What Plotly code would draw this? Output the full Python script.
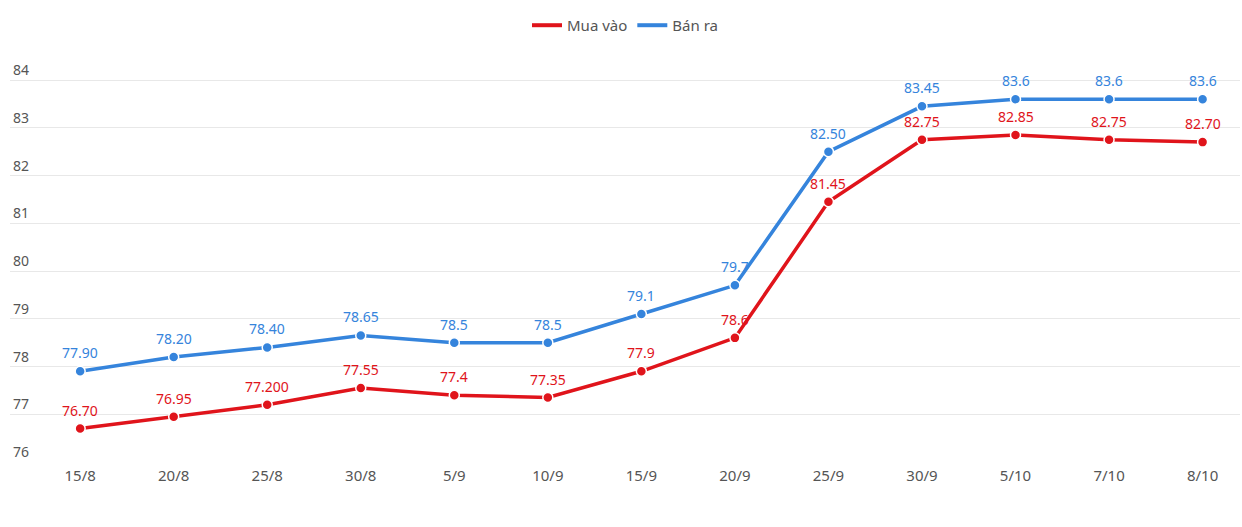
import plotly.graph_objects as go

dates = ["15/8", "20/8", "25/8", "30/8", "5/9", "10/9", "15/9", "20/9", "25/9", "30/9", "5/10", "7/10", "8/10"]
mua_vao = [76.70, 76.95, 77.20, 77.55, 77.4, 77.35, 77.9, 78.6, 81.45, 82.75, 82.85, 82.75, 82.70]
mua_vao_labels = ["76.70", "76.95", "77.200", "77.55", "77.4", "77.35", "77.9", "78.6", "81.45", "82.75", "82.85", "82.75", "82.70"]
ban_ra = [77.90, 78.20, 78.40, 78.65, 78.5, 78.5, 79.1, 79.7, 82.50, 83.45, 83.6, 83.6, 83.6]
ban_ra_labels = ["77.90", "78.20", "78.40", "78.65", "78.5", "78.5", "79.1", "79.7", "82.50", "83.45", "83.6", "83.6", "83.6"]
y_ticks = [76, 77, 78, 79, 80, 81, 82, 83, 84]

RED = "#e0141b"
BLUE = "#3584dc"
FONT = "Noto Sans"
GREY = "#555555"

fig = go.Figure()
series = [("Mua vào", mua_vao, mua_vao_labels, RED), ("Bán ra", ban_ra, ban_ra_labels, BLUE)]
for name, vals, labels, col in series:
    fig.add_trace(go.Scatter(
        x=dates, y=vals, name=name, mode="lines+markers", showlegend=False,
        line=dict(color=col, width=3.5),
        marker=dict(size=10, color=col, line=dict(color="white", width=1.5)),
        cliponaxis=False, hoverinfo="skip",
    ))
    for d, v, t in zip(dates, vals, labels):
        fig.add_annotation(x=d, y=v, text=t, showarrow=False, yanchor="bottom",
                           yshift=7, font=dict(color=col, size=14, family=FONT))
for name, vals, labels, col in series:
    fig.add_trace(go.Scatter(
        x=[None], y=[None], name=name, mode="lines",
        line=dict(color=col, width=4), showlegend=True,
    ))

fig.update_layout(
    width=1242, height=527,
    margin=dict(l=10, r=2, t=60, b=65),
    paper_bgcolor="white", plot_bgcolor="white",
    font=dict(family=FONT, color=GREY, size=14),
    showlegend=True,
    legend=dict(orientation="h", x=0.5, xanchor="center", y=0.983, yanchor="top",
                yref="container", font=dict(size=15, color=GREY),
                traceorder="normal", itemwidth=30),
    xaxis=dict(type="category", range=[-0.75, 12.4], showgrid=False, zeroline=False,
               showline=False, ticks="", automargin=False, ticklabelstandoff=3,
               tickfont=dict(size=15, color=GREY)),
    yaxis=dict(range=[76, 84.42], tickvals=y_ticks, automargin=False,
               ticklabelposition="inside top", showgrid=True, gridcolor="#e8e8e8",
               gridwidth=1, zeroline=False, showline=False, ticks="",
               tickfont=dict(size=14, color=GREY)),
)

fig.write_html("out.html", post_script="document.body.style.margin='0';",
               config={"displayModeBar": False})
